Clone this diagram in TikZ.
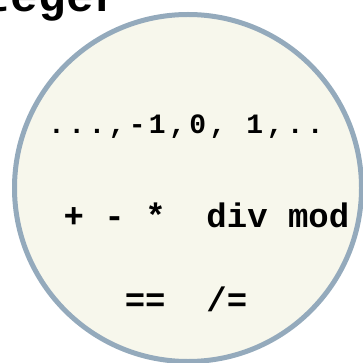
\documentclass[tikz,border=0pt]{standalone}
\usepackage{fontspec}
\setmonofont{Liberation Mono}
\usepackage{tikz}
\definecolor{ringline}{HTML}{94AABC}
\definecolor{ringfill}{HTML}{F7F7EC}
\begin{document}
\begin{tikzpicture}[x=1pt, y=-1pt,
    typering/.style={circle, draw=ringline, fill=ringfill, line width=5pt,
                     minimum size=347pt, inner sep=0pt},
    typetitle/.style={anchor=base west, inner sep=0pt, font=\fontsize{46}{46}\ttfamily\bfseries},
    typeline/.style={anchor=base, inner sep=0pt, font=\fontsize{34}{34}\ttfamily\bfseries}
  ]
    \useasboundingbox (0,0) rectangle (363,363);
    % title runs off the left and top edges, only its tail shows
    \node[typetitle] (title) at (-72,12) {Integer};
    \node[typering] (ring) at (188,188) {};

    \node[typeline, font=\fontsize{28}{28}\ttfamily\bfseries\addfontfeature{LetterSpace=12}]
      (values) at (186,134) {...,-1,0, 1,..};
    \node[typeline] (ops) at (206.5,227) {+ - *\ \ div mod};
    \node[typeline] (cmp) at (186,311) {==\ \ /=};
  \end{tikzpicture}
\end{document}
